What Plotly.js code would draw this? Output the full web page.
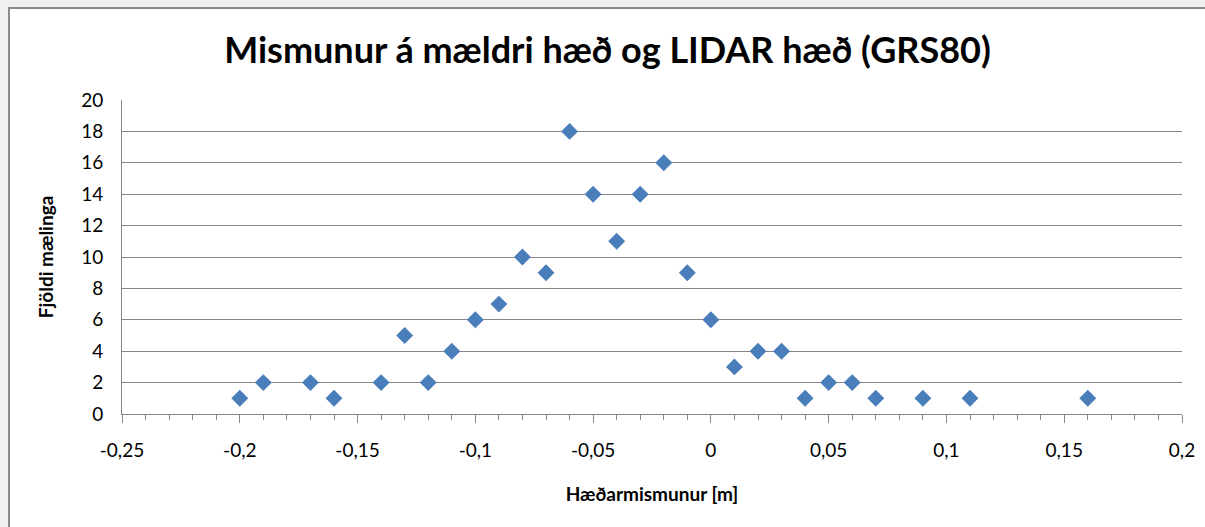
<!DOCTYPE html>
<html>
<head>
<meta charset="utf-8">
<script src="https://cdn.plot.ly/plotly-3.0.1.min.js"></script>
<style>
  html, body { margin:0; padding:0; background:#f0f0f0; overflow:hidden; width:1205px; height:527px; }
  #chart { position:absolute; left:8px; top:7px; width:1195px; height:518px; background:#fff;
           border-left:2px solid #8a8a8a; border-top:2px solid #8a8a8a; }
</style>
</head>
<body>
<div id="chart"></div>
<script>
const diffs  = [-0.20,-0.19,-0.17,-0.16,-0.14,-0.13,-0.12,-0.11,-0.10,-0.09,-0.08,-0.07,-0.06,-0.05,-0.04,-0.03,-0.02,-0.01,0.00,0.01,0.02,0.03,0.04,0.05,0.06,0.07,0.09,0.11,0.16];
const counts = [1,2,2,1,2,5,2,4,6,7,10,9,18,14,11,14,16,9,6,3,4,4,1,2,2,1,1,1,1];
const xTickVals = [-0.25,-0.2,-0.15,-0.1,-0.05,0,0.05,0.1,0.15,0.2];
const xTickText = ["-0,25","-0,2","-0,15","-0,1","-0,05","0","0,05","0,1","0,15","0,2"];
const yTickVals = [0,2,4,6,8,10,12,14,16,18,20];

const trace = {
  x: diffs, y: counts, type:'scatter', mode:'markers',
  marker:{symbol:'diamond', size:13, color:'#4a7ebb', line:{width:0}},
  hoverinfo:'x+y'
};
const font = 'Lato, Calibri, "Open Sans", sans-serif';
const layout = {
  width:1195, height:518,
  margin:{l:112, r:23, t:91, b:113},
  paper_bgcolor:'#ffffff', plot_bgcolor:'#ffffff',
  showlegend:false,
  font:{family:font, color:'#000'},
  title:{text:'<b>Mismunur á mældri hæð og LIDAR hæð (GRS80)</b>', font:{family:font, size:36, color:'#000'},
         x:0.5, xanchor:'center', y:0.92, yanchor:'middle'},
  xaxis:{range:[-0.25,0.2], tickmode:'array', tickvals:xTickVals, ticktext:xTickText,
         showgrid:false, zeroline:false, showline:true, linecolor:'#868686', linewidth:1,
         ticks:'outside', ticklen:8, tickcolor:'#868686', tickwidth:1, ticklabelstandoff:11,
         minor:{dtick:0.01, tick0:0, ticks:'outside', ticklen:5, tickcolor:'#868686', showgrid:false},
         tickfont:{family:font, size:19, color:'#000'},
         title:{text:'<b>Hæðarmismunur [m]</b>', font:{family:font, size:19, color:'#000'}, standoff:27}},
  xaxis2:{range:[-0.25,0.2], overlaying:'x', anchor:'y', side:'bottom', tickmode:'array', tickvals:xTickVals,
          showticklabels:false, showgrid:false, zeroline:false, showline:false,
          ticks:'inside', ticklen:7, tickcolor:'#868686', tickwidth:1},
  yaxis:{range:[0,20], tickmode:'array', tickvals:yTickVals,
         showgrid:true, gridcolor:'#868686', gridwidth:1, zeroline:false,
         showline:true, linecolor:'#868686', linewidth:1, ticks:'', ticklabelstandoff:14,
         tickfont:{family:font, size:19, color:'#000'},
         title:{text:'<b>Fjöldi mælinga</b>', font:{family:font, size:19, color:'#000'}, standoff:22}}
};
Plotly.newPlot('chart', [trace], layout, {displayModeBar:false, staticPlot:true});
</script>
</body>
</html>
